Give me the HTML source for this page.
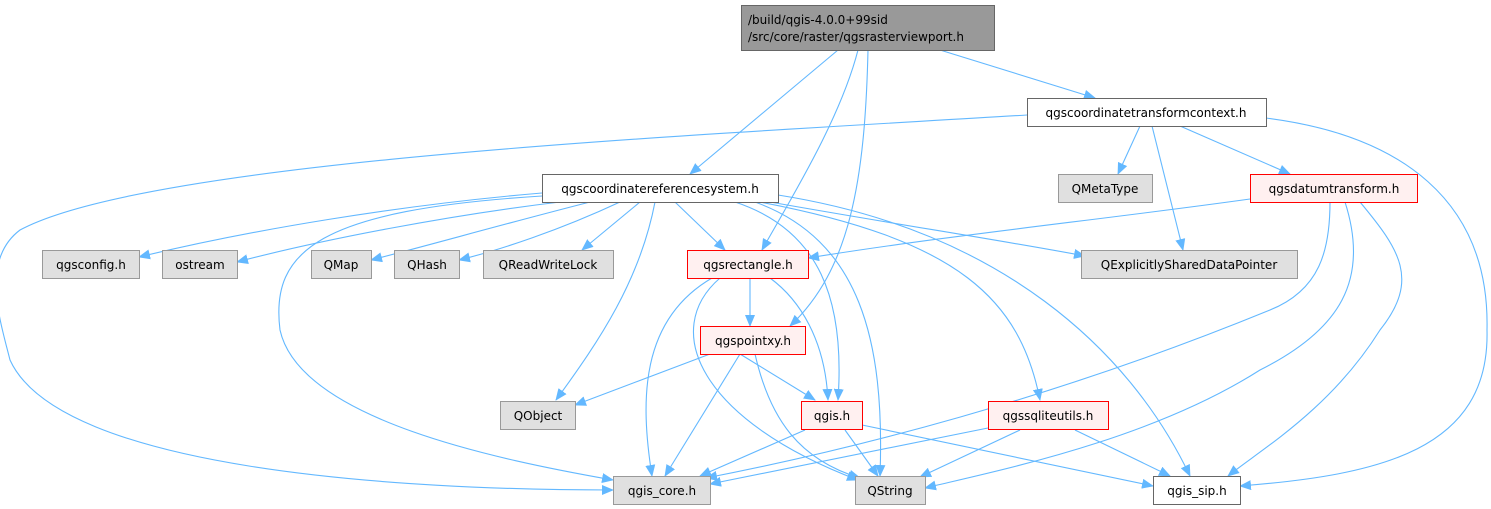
<!DOCTYPE html>
<html><head><meta charset="utf-8"><style>
body{margin:0;background:#fff;}
svg{display:block;}
text{font-family:"DejaVu Sans","Liberation Sans",sans-serif;font-size:12px;fill:#000;}
.e{fill:none;stroke:#63b8ff;stroke-width:1.1;marker-end:url(#a);}
.w{fill:#fff;stroke:#666;}
.g{fill:#e0e0e0;stroke:#999;}
.r{fill:#fff0f0;stroke:#ff0000;}
</style></head><body>
<svg width="1491" height="509" viewBox="0 0 1491 509">
<defs><marker id="a" markerWidth="12" markerHeight="10" refX="11" refY="5" orient="auto" markerUnits="userSpaceOnUse"><path d="M0,0 L12,5 L0,10 z" fill="#63b8ff"/></marker></defs>
<path class="e" d="M838,50 L690,174"/>
<path class="e" d="M858,50 C840,120 790,200 762,250"/>
<path class="e" d="M868,50 C865,180 850,270 790,326"/>
<path class="e" d="M940,50 L1095,98"/>
<path class="e" d="M1027,115 C700,135 150,160 20,230 C-20,260 0,320 10,360 C60,470 400,490 613,490"/>
<path class="e" d="M1140,126 L1118,174"/>
<path class="e" d="M1152,126 L1183,250"/>
<path class="e" d="M1180,126 L1290,174"/>
<path class="e" d="M1266,118 C1400,135 1490,200 1487,330 C1490,450 1380,475 1240,486"/>
<path class="e" d="M542,193 C400,205 250,230 139,257"/>
<path class="e" d="M560,202 C450,215 320,240 237,262"/>
<path class="e" d="M590,202 C500,225 430,245 371,260"/>
<path class="e" d="M620,202 C560,230 500,250 459,260"/>
<path class="e" d="M640,202 L582,250"/>
<path class="e" d="M675,202 L725,250"/>
<path class="e" d="M655,202 C640,280 600,340 556,400"/>
<path class="e" d="M542,196 C320,210 270,250 280,330 C300,420 500,460 613,480"/>
<path class="e" d="M735,202 C820,230 845,300 838,400"/>
<path class="e" d="M755,202 C860,240 885,340 880,476"/>
<path class="e" d="M760,202 C960,240 1020,300 1040,400"/>
<path class="e" d="M770,202 C900,225 1000,240 1085,256"/>
<path class="e" d="M778,195 C1000,230 1130,350 1190,476"/>
<path class="e" d="M1250,199 C1100,220 950,235 808,258"/>
<path class="e" d="M1330,202 C1330,250 1320,290 1270,310 C1050,400 850,450 706,478"/>
<path class="e" d="M1345,202 C1370,280 1340,330 1260,370 C1150,440 1000,470 925,488"/>
<path class="e" d="M1360,202 C1400,250 1420,280 1380,330 C1330,410 1260,450 1228,476"/>
<path class="e" d="M750,278 L750,326"/>
<path class="e" d="M770,278 C800,300 825,340 828,400"/>
<path class="e" d="M712,278 C640,320 640,400 652,476"/>
<path class="e" d="M720,278 C660,330 700,420 858,480"/>
<path class="e" d="M710,354 L575,405"/>
<path class="e" d="M740,354 L815,400"/>
<path class="e" d="M740,354 L665,476"/>
<path class="e" d="M755,354 C770,420 800,460 860,478"/>
<path class="e" d="M805,430 L700,476"/>
<path class="e" d="M845,430 L878,476"/>
<path class="e" d="M862,425 L1153,486"/>
<path class="e" d="M988,428 L710,484"/>
<path class="e" d="M1020,430 L920,477"/>
<path class="e" d="M1075,430 L1170,476"/>

<rect x="741.5" y="5.5" width="253" height="45" fill="#999" stroke="#666"/>
<text x="748" y="24">/build/qgis-4.0.0+99sid</text>
<text x="748" y="41">/src/core/raster/qgsrasterviewport.h</text>
<rect class="w" x="1027.5" y="98.5" width="239" height="28"/><text x="1146" y="117" text-anchor="middle">qgscoordinatetransformcontext.h</text>
<rect class="w" x="542.5" y="174.5" width="236" height="28"/><text x="660" y="193" text-anchor="middle">qgscoordinatereferencesystem.h</text>
<rect class="g" x="1058.5" y="174.5" width="94" height="28"/><text x="1105" y="193" text-anchor="middle">QMetaType</text>
<rect class="r" x="1250.5" y="174.5" width="167" height="28"/><text x="1334" y="193" text-anchor="middle">qgsdatumtransform.h</text>
<rect class="g" x="42.5" y="250.5" width="97" height="28"/><text x="91" y="269" text-anchor="middle">qgsconfig.h</text>
<rect class="g" x="162.5" y="250.5" width="75" height="28"/><text x="200" y="269" text-anchor="middle">ostream</text>
<rect class="g" x="311.5" y="250.5" width="60" height="28"/><text x="341" y="269" text-anchor="middle">QMap</text>
<rect class="g" x="394.5" y="250.5" width="65" height="28"/><text x="427" y="269" text-anchor="middle">QHash</text>
<rect class="g" x="483.5" y="250.5" width="130" height="28"/><text x="548" y="269" text-anchor="middle">QReadWriteLock</text>
<rect class="r" x="687.5" y="250.5" width="121" height="28"/><text x="748" y="269" text-anchor="middle">qgsrectangle.h</text>
<rect class="g" x="1081.5" y="250.5" width="216" height="28"/><text x="1189" y="269" text-anchor="middle">QExplicitlySharedDataPointer</text>
<rect class="r" x="700.5" y="326.5" width="105" height="28"/><text x="753" y="345" text-anchor="middle">qgspointxy.h</text>
<rect class="g" x="500.5" y="401.5" width="75" height="28"/><text x="538" y="420" text-anchor="middle">QObject</text>
<rect class="r" x="801.5" y="401.5" width="61" height="28"/><text x="832" y="420" text-anchor="middle">qgis.h</text>
<rect class="r" x="988.5" y="401.5" width="120" height="28"/><text x="1048" y="420" text-anchor="middle">qgssqliteutils.h</text>
<rect class="g" x="613.5" y="476.5" width="97" height="28"/><text x="662" y="495" text-anchor="middle">qgis_core.h</text>
<rect class="g" x="855.5" y="476.5" width="70" height="28"/><text x="890" y="495" text-anchor="middle">QString</text>
<rect class="w" x="1153.5" y="476.5" width="87" height="28"/><text x="1197" y="495" text-anchor="middle">qgis_sip.h</text>
</svg>
</body></html>
